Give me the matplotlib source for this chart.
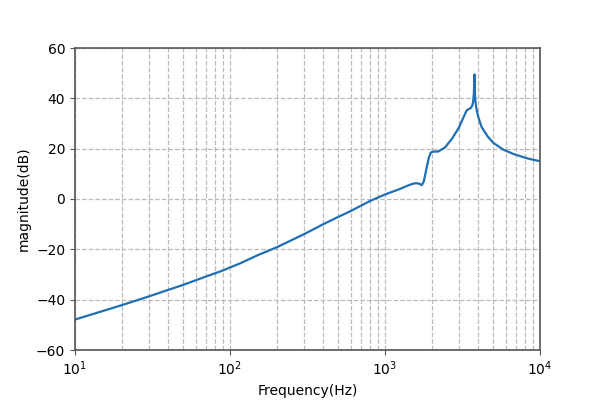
import matplotlib
matplotlib.use('Agg')
import matplotlib.pyplot as plt
import numpy as np

# valores (frecuencia en Hz, magnitud en dB)
freq = [10, 20, 30, 40, 50, 70, 90, 100, 116, 150, 200, 300, 400, 500, 600,
        800, 1000, 1250, 1400, 1500, 1585, 1660, 1726, 1780, 1858, 1920, 1972,
        2030, 2210, 2440, 2694, 3000, 3200, 3365, 3480, 3570, 3650, 3700, 3740,
        3765, 3780, 3795, 3810, 3835, 3900, 4000, 4100, 4210, 4418, 4600, 5000,
        5800, 6730, 8200, 10000]
mag_db = [-47.9, -42.2, -38.7, -36.1, -34.1, -30.8, -28.4, -27.2, -25.6, -22.4,
          -19.2, -14.0, -10.0, -7.1, -4.8, -0.8, 1.8, 4.0, 5.3, 6.0, 6.3, 6.1,
          5.5, 7.0, 12.6, 16.5, 18.4, 18.8, 18.9, 20.5, 23.8, 28.4, 32.3, 35.2,
          35.8, 36.1, 37.0, 38.5, 41.5, 46.0, 49.5, 45.0, 41.5, 38.5, 35.5, 32.5,
          30.5, 28.5, 26.5, 24.8, 22.3, 19.6, 17.9, 16.2, 15.0]

fig = plt.figure(figsize=(6, 4), dpi=100)
ax = fig.add_axes([0.125, 0.125, 0.775, 0.755])

ax.semilogx(freq, mag_db, color='#1f6fb4', linewidth=1.6)

ax.set_xlim(10, 1e4)
ax.set_ylim(-60, 60)
ax.set_yticks([-60, -40, -20, 0, 20, 40, 60])
ax.grid(True, which='both', linestyle='--', color='#bbbbbb', linewidth=0.9)
ax.tick_params(which='minor', length=0)
ax.tick_params(which='major', color='#555555', labelsize=10)
for s in ax.spines.values():
    s.set_color('#555555')
    s.set_linewidth(1.2)

ax.set_xlabel('Frequency(Hz)')
ax.set_ylabel('magnitude(dB)')

fig.savefig('out.png', dpi=100)
